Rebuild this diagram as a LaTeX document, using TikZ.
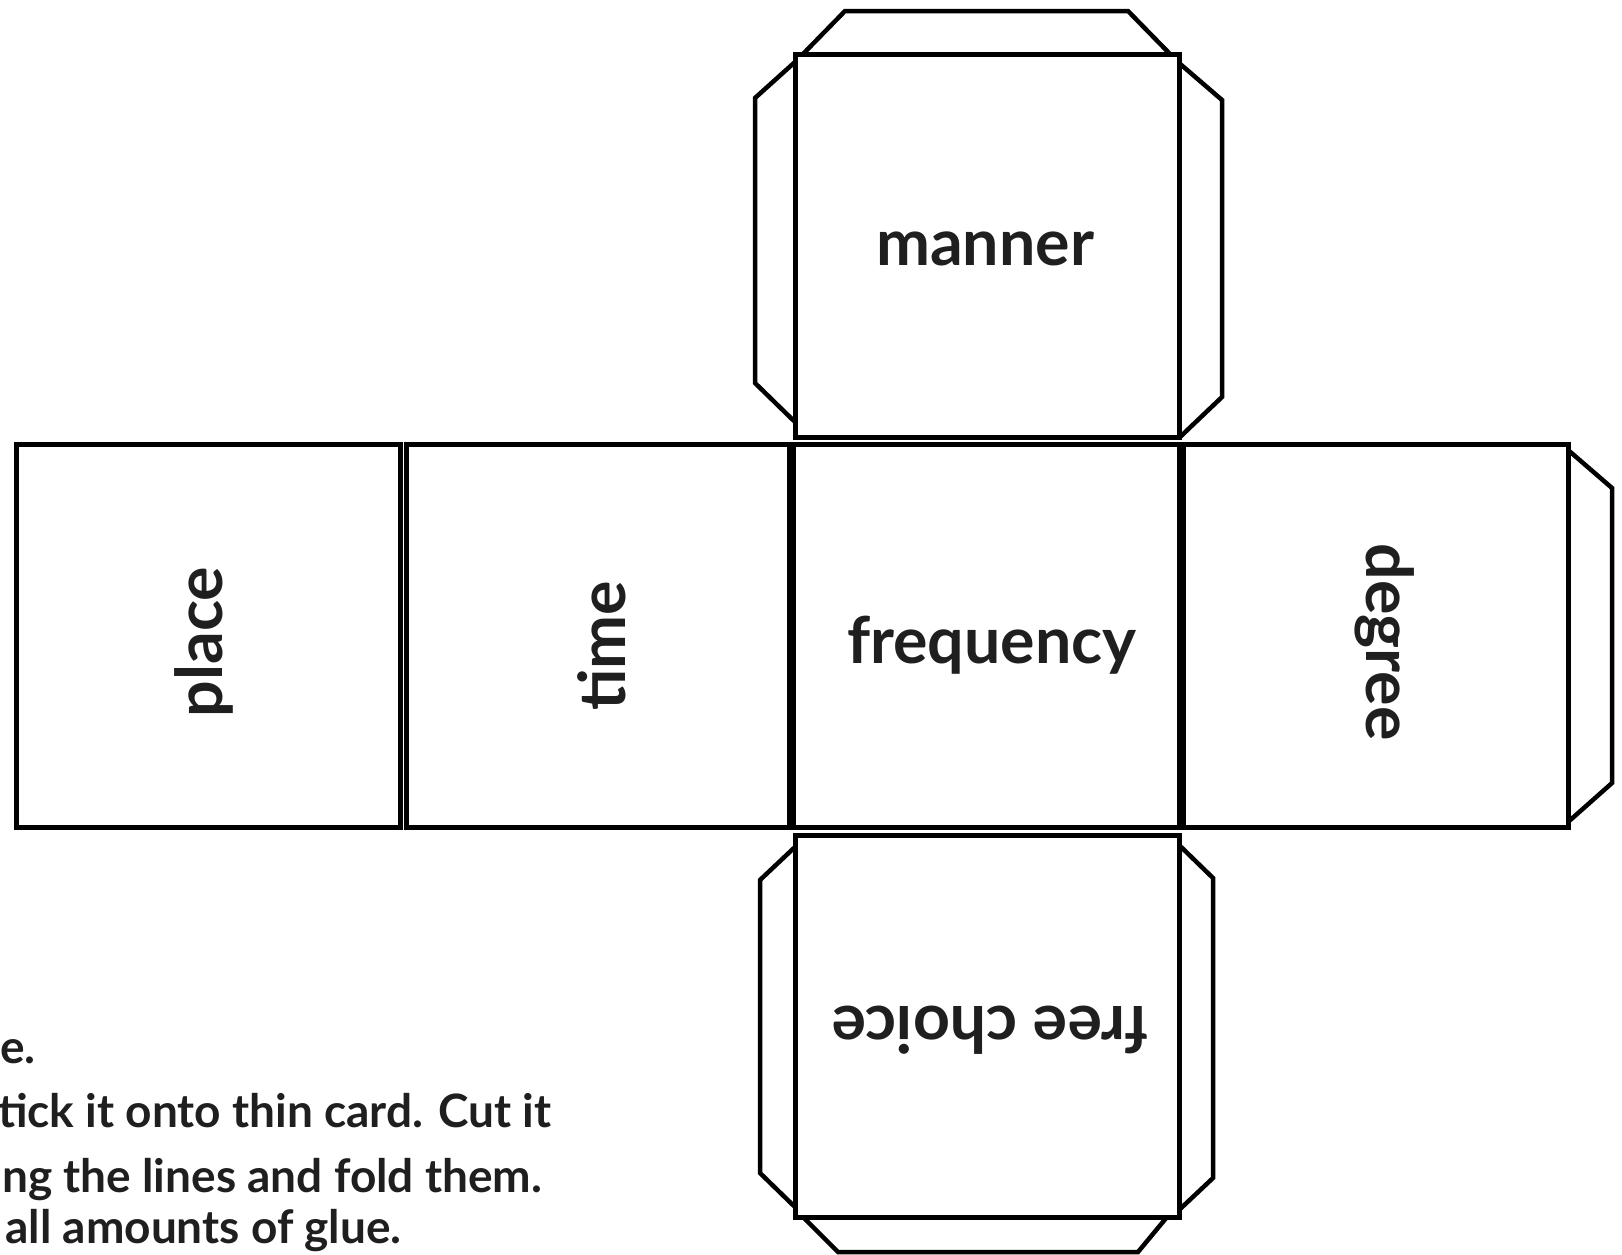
\documentclass[tikz,border=0pt]{standalone}
\usepackage{fontspec}
\setmainfont{Lato}
\usepackage{tikz}

\begin{document}
\begin{tikzpicture}[x=1pt,y=-1pt,line join=miter,
    face/.style={line width=5pt},
    flap/.style={line width=4.5pt},
    word/.style={text=black!88,inner sep=0pt,font=\bfseries\fontsize{64.5}{72}\selectfont},
    note/.style={text=black!88,inner sep=0pt,anchor=base west,font=\bfseries\fontsize{46}{64}\selectfont}]
  \useasboundingbox (0,0) rectangle (1622,1254);
  % the row of four faces
  \draw[face] (16,444) rectangle (400,827);
  \draw[face] (406,444) rectangle (789,827);
  \draw[face] (793,444) rectangle (1179,827);
  \draw[face] (1183,444) rectangle (1568,827);
  % top and bottom faces
  \draw[face] (795,54) rectangle (1179,437);
  \draw[face] (795,835) rectangle (1179,1217);
  % glue flaps
  \draw[flap] (803,54) -- (845,11) -- (1128,11) -- (1170,54);
  \draw[flap] (795,62) -- (755,98) -- (755,383) -- (795,422);
  \draw[flap] (1179,63) -- (1222,100) -- (1222,397) -- (1180,437);
  \draw[flap] (1568,450) -- (1612,488) -- (1612,783) -- (1568,822);
  \draw[flap] (795,847) -- (760,880) -- (760,1173) -- (795,1207);
  \draw[flap] (1179,845) -- (1213,878) -- (1213,1178) -- (1179,1210);
  \draw[flap] (803,1217) -- (838,1252) -- (1138,1252) -- (1167,1217);
  % labels
  \node[word,anchor=base] (manner) at (985,265) {manner};
  \node[word,anchor=base] (frequency) at (992,663) {frequency};
  \node[word,anchor=base,rotate=180] (choice) at (990,1006) {free choice};
  \node[word,anchor=base,rotate=90] (place) at (222,642) {place};
  \node[word,anchor=base,rotate=90] (time) at (625,646) {time};
  \node[word,anchor=base,rotate=-90] (degree) at (1366,642) {degree};
  % instructions, cut at the left edge
  \node[note] (note1) at (0,1063) {e.};
  \node[note] (note2) at (-2,1127) {tick it onto thin card. Cut it};
  \node[note] (note3) at (2,1192) {ng the lines and fold them.};
  \node[note] (note4) at (5,1243) {all amounts of glue.};
\end{tikzpicture}
\end{document}
